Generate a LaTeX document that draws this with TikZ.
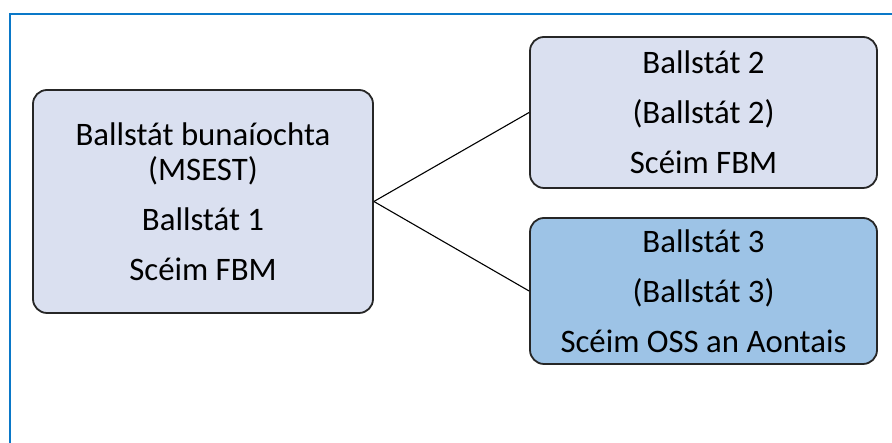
\documentclass[tikz,border=0pt]{standalone}
\usepackage{fontspec}
\setmainfont{Carlito}
\definecolor{boxgray}{HTML}{DAE0F0}
\definecolor{boxblue}{HTML}{9DC3E6}
\definecolor{framecol}{HTML}{0A78C8}
\begin{document}
\begin{tikzpicture}[x=1pt,y=1pt,
    box/.style={draw=black!85,line width=1.8pt,rounded corners=14pt,align=center,
      inner sep=0pt,font=\fontsize{32.8}{35}\selectfont}]
      \useasboundingbox (0,0) rectangle (892,443);
      \draw[framecol,line width=2pt] (9.5,0) -- (9.5,429) -- (892,429);
      \draw
        (203,241.5) node[box,fill=boxgray,minimum width=340,minimum height=223] (ms)
          {Ballstát bunaíochta\\(MSEST)\\[15pt]Ballstát 1\\[15pt]Scéim FBM}
        (703.5,330.5) node[box,fill=boxgray,minimum width=347,minimum height=151] (bs2)
          {Ballstát 2\\[15pt](Ballstát 2)\\[15pt]Scéim FBM}
        (703.5,152) node[box,fill=boxblue,minimum width=347,minimum height=146] (bs3)
          {Ballstát 3\\[15pt](Ballstát 3)\\[15pt]Scéim OSS an Aontais};
      \begin{scope}[-,line width=1.1pt]
        \draw (ms.east) to (bs2.west);
        \draw (ms.east) to (bs3.west);
      \end{scope}
    \end{tikzpicture}
\end{document}
